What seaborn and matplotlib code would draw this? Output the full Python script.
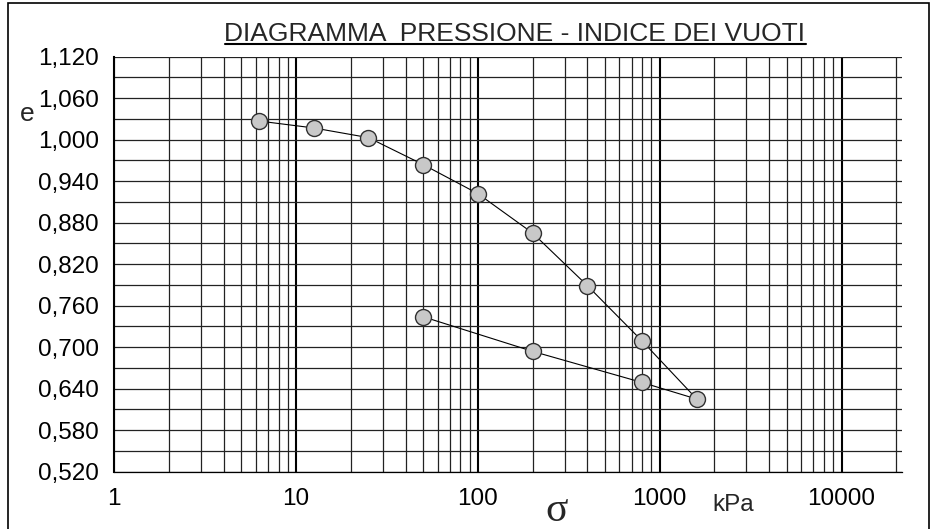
import numpy as np
import pandas as pd
import matplotlib
matplotlib.use("Agg")
import matplotlib.pyplot as plt
import seaborn as sns
from matplotlib.ticker import FixedLocator, FuncFormatter, LogLocator, NullFormatter
from matplotlib.lines import Line2D
from matplotlib.patches import Rectangle

# data: oedometer test, loading then unloading
sigma_load = [6.25, 12.5, 25, 50, 100, 200, 400, 800, 1600]
e_load = [1.027, 1.017, 1.003, 0.964, 0.922, 0.865, 0.789, 0.709, 0.625]
sigma_unload = [800, 200, 50]
e_unload = [0.649, 0.694, 0.744]

x_ticks = [1, 10, 100, 1000, 10000]
x_tick_labels = ["1", "10", "100", "1000", "10000"]
y_ticks = [0.52, 0.58, 0.64, 0.70, 0.76, 0.82, 0.88, 0.94, 1.00, 1.06, 1.12]
y_minor = [0.55, 0.61, 0.67, 0.73, 0.79, 0.85, 0.91, 0.97, 1.03, 1.09]

df = pd.DataFrame({
    "sigma": sigma_load + sigma_unload,
    "e": e_load + e_unload,
})

sns.set_style("white")
plt.rcParams["font.family"] = ["Liberation Sans", "DejaVu Sans"]

fig = plt.figure(figsize=(9.34, 5.29), dpi=100)
ax = fig.add_axes([0.1224, 0.1083, 0.9657 - 0.1224, 0.8928 - 0.1083])

ax.set_xscale("log")
ax.set_xlim(1, 21500)
ax.set_ylim(0.52, 1.12)

# ticks and grid
ax.xaxis.set_major_locator(FixedLocator(x_ticks))
ax.xaxis.set_major_formatter(FuncFormatter(lambda v, p: x_tick_labels[p] if p < len(x_tick_labels) else ""))
ax.xaxis.set_minor_locator(LogLocator(base=10, subs=np.arange(2, 10)))
ax.xaxis.set_minor_formatter(NullFormatter())
ax.yaxis.set_major_locator(FixedLocator(y_ticks))
ax.yaxis.set_minor_locator(FixedLocator(y_minor))
ax.yaxis.set_major_formatter(FuncFormatter(lambda v, p: f"{v:.3f}".replace(".", ",")))

ax.grid(which="major", axis="x", color="black", linewidth=1.5)
ax.grid(which="minor", axis="x", color="#222222", linewidth=0.9)
ax.grid(which="both", axis="y", color="#222222", linewidth=0.9)
ax.set_axisbelow(True)

for s in ["top", "right"]:
    ax.spines[s].set_visible(False)
ax.spines["left"].set_linewidth(1.5)
ax.spines["bottom"].set_linewidth(0.9)
ax.spines["left"].set_color("black")
ax.spines["bottom"].set_color("black")

ax.tick_params(axis="both", which="both", direction="out", length=5, width=0.8,
               color="black", labelsize=17.5, labelcolor="black")
ax.tick_params(axis="y", which="both", pad=6)
ax.tick_params(axis="x", which="both", pad=7)

sns.lineplot(data=df, x="sigma", y="e", sort=False, estimator=None, ax=ax,
             color="black", linewidth=0.8, marker="o", markersize=11.5,
             markerfacecolor="#c8c8c8", markeredgecolor="#303030",
             markeredgewidth=1.0, zorder=5)
ax.set_xlabel("")
ax.set_ylabel("")

# labels
t = fig.text(515 / 934, 1 - 41 / 529, "DIAGRAMMA  PRESSIONE - INDICE DEI VUOTI",
             ha="center", va="baseline", fontsize=19)
fig.text(27 / 934, 1 - 114 / 529, "e", ha="center", va="center", fontsize=19)
fig.text(557 / 934, 1 - 511 / 529, "σ", ha="center", va="center", fontsize=30,
         family=["Liberation Serif", "DejaVu Serif"])
fig.text(712 / 934, 1 - 505 / 529, "kPa", ha="left", va="center", fontsize=17.5)

# underline title
fig.canvas.draw()
bb = t.get_window_extent()
W, H = fig.bbox.width, fig.bbox.height
y_ul = H - 44
fig.add_artist(Line2D([bb.x0 / W, bb.x1 / W], [y_ul / H, y_ul / H],
                      transform=fig.transFigure, color="black", linewidth=1.5))

# outer frame
fig.add_artist(Rectangle((8 / 934, -0.02), (929 - 8) / 934, 1 - 3 / 529 + 0.02,
                         transform=fig.transFigure, fill=False,
                         edgecolor="black", linewidth=1.2))

fig.savefig("out.png", dpi=100)
